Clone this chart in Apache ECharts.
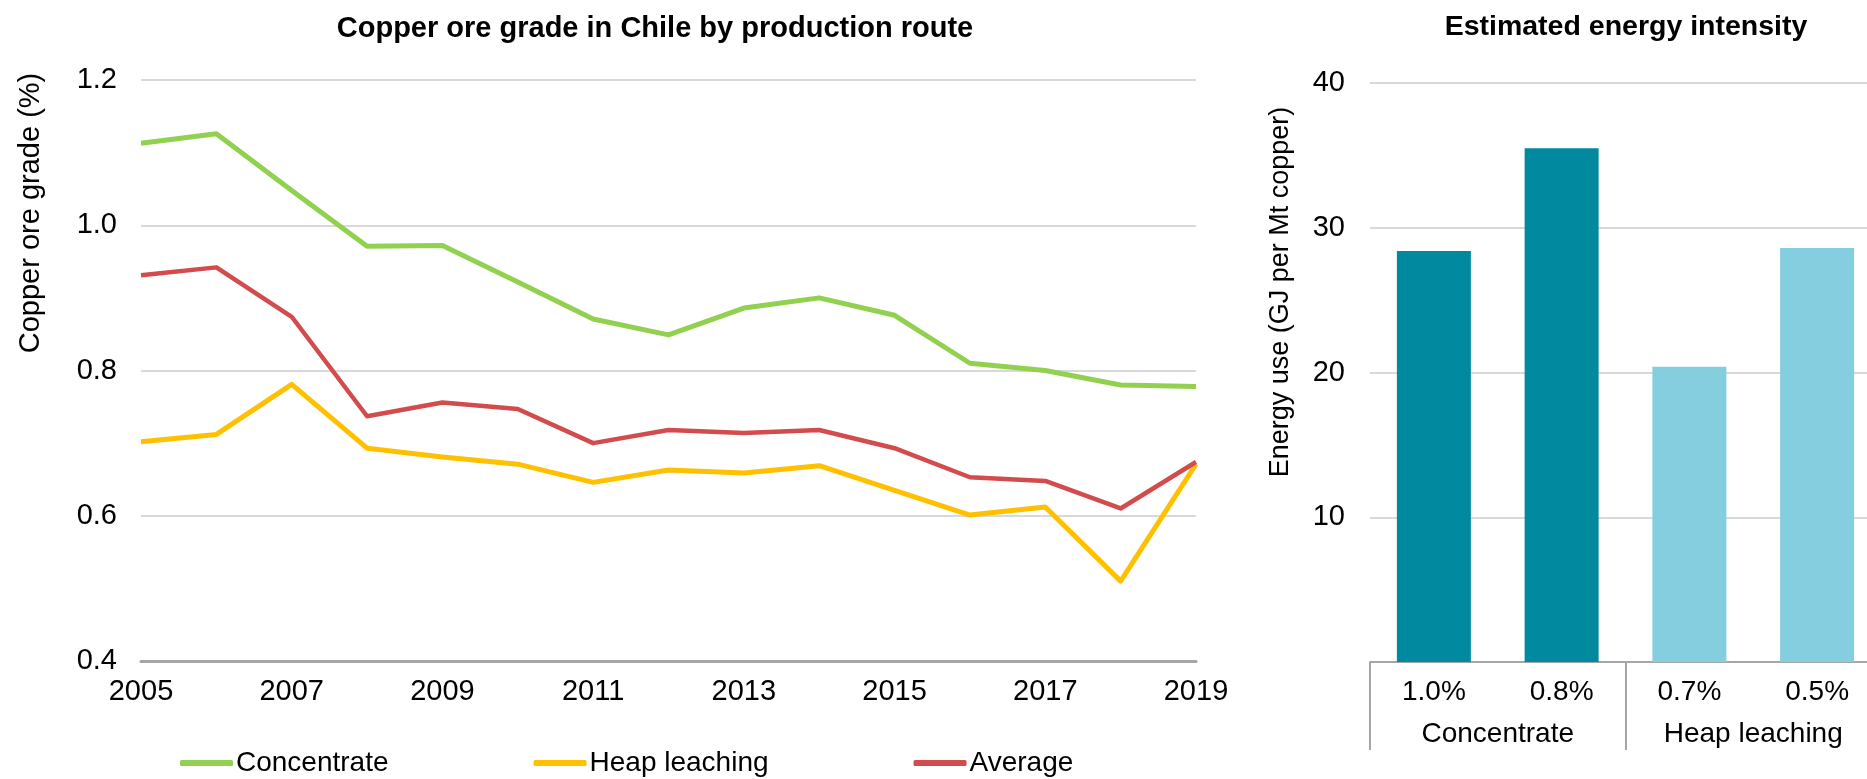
<!DOCTYPE html>
<html>
<head>
<meta charset="utf-8">
<script src="https://cdn.jsdelivr.net/npm/echarts@6/dist/echarts.min.js"></script>
<style>
  html, body { margin: 0; padding: 0; background: #fff; overflow: hidden; }
  /* the bar panel runs a little past the right edge of the window, like the original */
  #main { width: 1881px; height: 779px; }
</style>
</head>
<body>
<div id="main"></div>
<script>
// left chart: ore grade by year
var years = ['2005', '2006', '2007', '2008', '2009', '2010', '2011', '2012', '2013', '2014', '2015', '2016', '2017', '2018', '2019'];
var concentrate = [1.113, 1.126, 1.048, 0.971, 0.972, 0.922, 0.871, 0.849, 0.886, 0.900, 0.876, 0.810, 0.800, 0.780, 0.778];
var heapLeaching = [0.702, 0.712, 0.781, 0.693, 0.681, 0.671, 0.646, 0.663, 0.659, 0.669, 0.635, 0.601, 0.612, 0.510, 0.671];
var average = [0.931, 0.942, 0.874, 0.737, 0.756, 0.747, 0.700, 0.718, 0.714, 0.718, 0.693, 0.653, 0.648, 0.610, 0.674];

// right chart: energy intensity
var gradeLabels = ['1.0%', '0.8%', '0.7%', '0.5%'];
var routeLabels = ['Concentrate', 'Heap leaching'];
var energyUse = [28.4, 35.5, 20.4, 28.6];
var barRoute = [0, 0, 1, 1];

var FONT = 'Liberation Sans, Arial, sans-serif';
var routeColors = ['#00899f', '#84cee0'];
var gridColor = '#d9d9d9';
var axisColor = '#a6a6a6';

var myChart = echarts.init(document.getElementById('main'));

myChart.setOption({
  animation: false,
  textStyle: { fontFamily: FONT, color: '#000' },
  title: [
    {
      text: 'Copper ore grade in Chile by production route',
      left: 655, top: 14, padding: 0, textAlign: 'center',
      textStyle: { fontFamily: FONT, fontSize: 29, fontWeight: 'bold', color: '#000' }
    },
    {
      text: 'Estimated energy intensity',
      left: 1626, top: 13, padding: 0, textAlign: 'center',
      textStyle: { fontFamily: FONT, fontSize: 28.5, fontWeight: 'bold', color: '#000' }
    }
  ],
  legend: {
    data: ['Concentrate', 'Heap leaching', 'Average'],
    left: 180, top: 749, padding: 0,
    icon: 'roundRect',
    itemWidth: 53, itemHeight: 6, itemGap: 145,
    textStyle: { fontFamily: FONT, fontSize: 28, color: '#000', padding: [0, 0, 0, -2] }
  },
  grid: [
    { left: 141, top: 80, width: 1055, height: 581 },
    { left: 1370, top: 83, width: 511, height: 579 }
  ],
  xAxis: [
    {
      type: 'category', gridIndex: 0, data: years, boundaryGap: false,
      axisLine: { lineStyle: { color: axisColor, width: 3 } },
      axisTick: { show: false },
      axisLabel: { interval: 1, margin: 16, fontSize: 29, color: '#000', fontFamily: FONT }
    },
    {
      type: 'category', gridIndex: 1, data: gradeLabels,
      axisLine: { lineStyle: { color: axisColor, width: 2 } },
      axisTick: { show: false },
      axisLabel: { margin: 16, fontSize: 28, color: '#000', fontFamily: FONT }
    },
    {
      type: 'category', gridIndex: 1, data: routeLabels, position: 'bottom',
      axisLine: { show: false },
      axisTick: { show: true, length: 88, lineStyle: { color: axisColor, width: 2 } },
      axisLabel: { margin: 58, fontSize: 28, color: '#000', fontFamily: FONT }
    }
  ],
  yAxis: [
    {
      type: 'value', gridIndex: 0, min: 0.4, max: 1.2, interval: 0.2,
      axisLine: { show: false }, axisTick: { show: false },
      splitLine: { lineStyle: { color: gridColor, width: 2 } },
      axisLabel: {
        margin: 24, fontSize: 29, color: '#000', fontFamily: FONT,
        formatter: function (v) { return v.toFixed(1); }
      }
    },
    {
      type: 'value', gridIndex: 1, min: 0, max: 40, interval: 10,
      axisLine: { show: false }, axisTick: { show: false },
      splitLine: { lineStyle: { color: gridColor, width: 2 } },
      axisLabel: {
        margin: 25, fontSize: 29, color: '#000', fontFamily: FONT,
        formatter: function (v) { return v === 0 ? '' : v; }
      }
    }
  ],
  graphic: [
    {
      type: 'text', x: 31, y: 213, rotation: Math.PI / 2,
      style: { text: 'Copper ore grade (%)', font: '29px ' + FONT, fill: '#000', textAlign: 'center', textVerticalAlign: 'middle' }
    },
    {
      type: 'text', x: 1281, y: 292, rotation: Math.PI / 2,
      style: { text: 'Energy use (GJ per Mt copper)', font: '27px ' + FONT, fill: '#000', textAlign: 'center', textVerticalAlign: 'middle' }
    }
  ],
  series: [
    {
      name: 'Concentrate', type: 'line', xAxisIndex: 0, yAxisIndex: 0,
      data: concentrate, symbol: 'none', color: '#92d050',
      lineStyle: { width: 5, join: 'round' }
    },
    {
      name: 'Heap leaching', type: 'line', xAxisIndex: 0, yAxisIndex: 0,
      data: heapLeaching, symbol: 'none', color: '#ffc000',
      lineStyle: { width: 5, join: 'round' }
    },
    {
      name: 'Average', type: 'line', xAxisIndex: 0, yAxisIndex: 0,
      data: average, symbol: 'none', color: '#d24b4d',
      lineStyle: { width: 4.5, join: 'round' }
    },
    {
      name: 'Energy', type: 'bar', xAxisIndex: 1, yAxisIndex: 1,
      barWidth: 74,
      data: energyUse.map(function (v, i) {
        return { value: v, itemStyle: { color: routeColors[barRoute[i]] } };
      })
    }
  ]
});
</script>
</body>
</html>
